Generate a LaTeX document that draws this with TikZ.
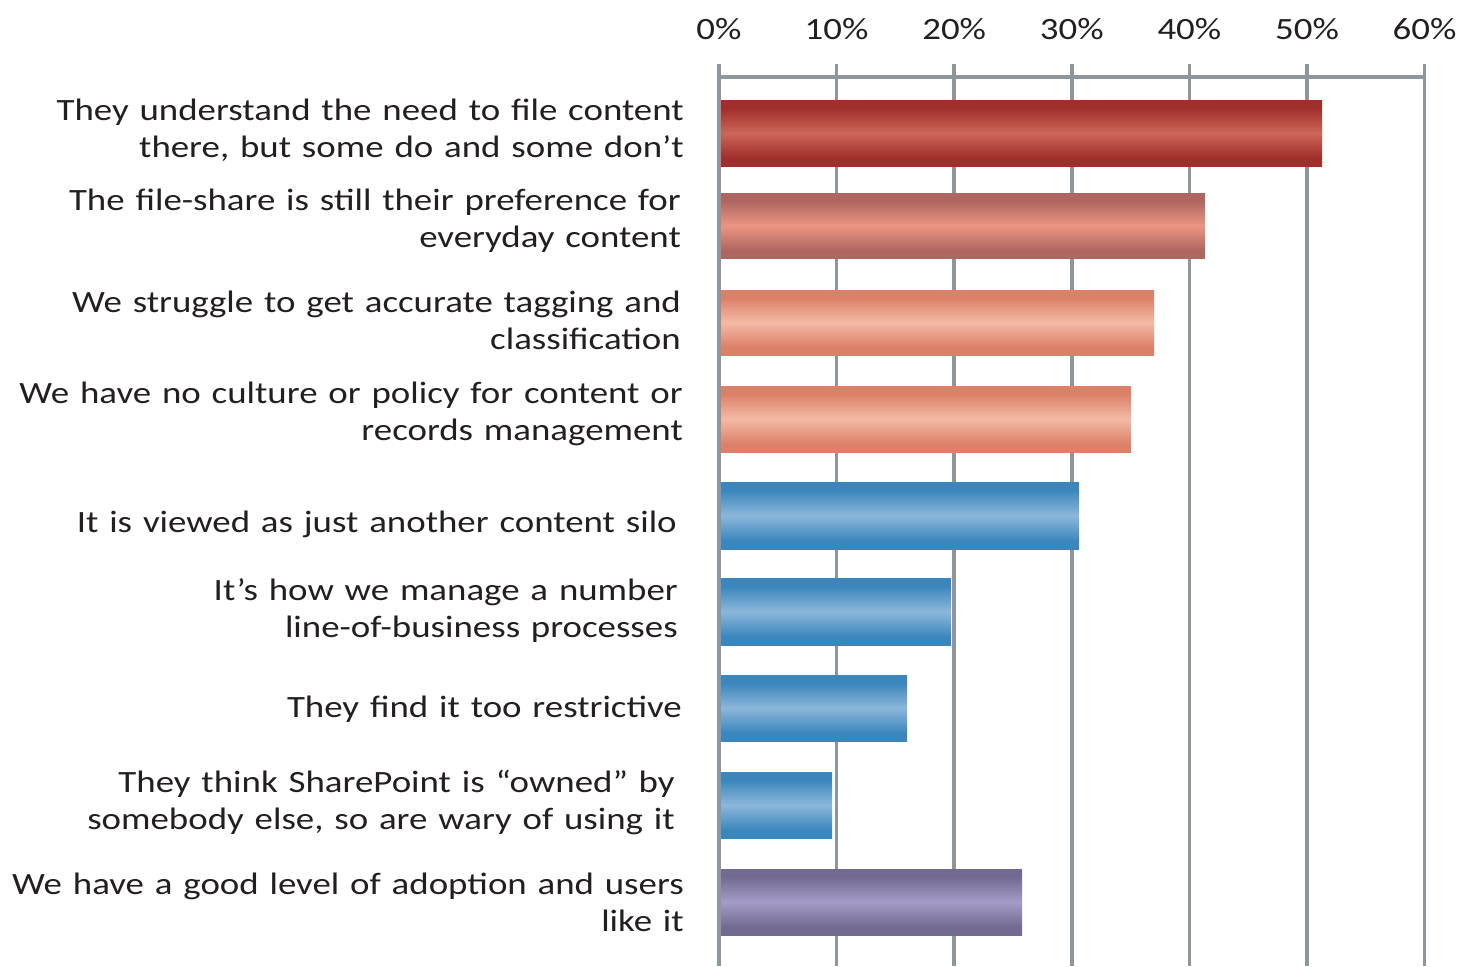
\documentclass[tikz,border=0pt]{standalone}
\usepackage{fontspec}
\setmainfont[FakeStretch=1.19,WordSpace=1.3]{Carlito}
\definecolor{gridc}{HTML}{8E969D}
\definecolor{txt}{HTML}{231F20}
\definecolor{rA}{HTML}{A02E2A}\definecolor{rAl}{HTML}{CC6658}
\definecolor{rB}{HTML}{AE6660}\definecolor{rBl}{HTML}{EC9582}
\definecolor{rC}{HTML}{DD8068}\definecolor{rCl}{HTML}{F3BAA6}
\definecolor{bA}{HTML}{3A86BD}\definecolor{bAl}{HTML}{8CB7DA}
\definecolor{pA}{HTML}{736A92}\definecolor{pAl}{HTML}{A49CC6}
\pgfdeclareverticalshading{shRA}{100bp}{color(0bp)=(rA); color(31bp)=(rA); color(50bp)=(rAl); color(69bp)=(rA); color(100bp)=(rA)}
\pgfdeclareverticalshading{shRB}{100bp}{color(0bp)=(rB); color(31bp)=(rB); color(50bp)=(rBl); color(69bp)=(rB); color(100bp)=(rB)}
\pgfdeclareverticalshading{shRC}{100bp}{color(0bp)=(rC); color(31bp)=(rC); color(50bp)=(rCl); color(69bp)=(rC); color(100bp)=(rC)}
\pgfdeclareverticalshading{shBA}{100bp}{color(0bp)=(bA); color(31bp)=(bA); color(50bp)=(bAl); color(69bp)=(bA); color(100bp)=(bA)}
\pgfdeclareverticalshading{shPA}{100bp}{color(0bp)=(pA); color(31bp)=(pA); color(50bp)=(pAl); color(69bp)=(pA); color(100bp)=(pA)}
\tikzset{
  gridline/.style={draw=gridc, line width=3.5pt},
  lbl/.style={anchor=east, align=right, inner sep=0pt, font=\fontsize{31}{37}\selectfont, text=txt},
  ticklbl/.style={anchor=center, inner sep=0pt, font=\fontsize{31}{36}\selectfont, text=txt},
}
\begin{document}
\begin{tikzpicture}[x=1pt,y=-1pt]
\useasboundingbox (0,0) rectangle (1463,966);
% grid
\foreach \i/\t in {0/0,1/10,2/20,3/30,4/40,5/50,6/60}{
  \coordinate (gt\i) at ({719+117.6*\i},64);
  \coordinate (gb\i) at ({719+117.6*\i},966);
  \draw[gridline] (gt\i) -- (gb\i);
  \node[ticklbl] (tk\i) at ({719+117.6*\i},29) {\t\%};
}
\coordinate (hl) at (719,77);
\coordinate (hr) at (1425,77);
\draw[gridline] (hl) -- (hr);
% bars
\shade[shading=shRA] (721,100) rectangle (1322,166);
\shade[shading=shRB] (721,193) rectangle (1205,258);
\shade[shading=shRC] (721,290) rectangle (1154,355);
\shade[shading=shRC] (721,386) rectangle (1131,452);
\shade[shading=shBA] (721,482) rectangle (1079,549);
\shade[shading=shBA] (721,578) rectangle (951,645);
\shade[shading=shBA] (721,675) rectangle (907,741);
\shade[shading=shBA] (721,772) rectangle (832,838);
\shade[shading=shPA] (721,869) rectangle (1022,935);
% labels
\node[lbl] (l1) at (684,130) {They understand the need to file content\\there, but some do and some don’t};
\node[lbl] (l2) at (681,221) {The file-share is still their preference for\\everyday content};
\node[lbl] (l3) at (681,320) {We struggle to get accurate tagging and\\classification};
\node[lbl] (l4) at (683,414) {We have no culture or policy for content or\\records management};
\node[lbl] (l5) at (677,524) {It is viewed as just another content silo};
\node[lbl] (l6) at (678,611) {It’s how we manage a number\\line-of-business processes};
\node[lbl] (l7) at (682,709) {They find it too restrictive};
\node[lbl] (l8) at (675,802) {They think SharePoint is “owned” by\\somebody else, so are wary of using it};
\node[lbl] (l9) at (684,902) {We have a good level of adoption and users\\like it};
\end{tikzpicture}
\end{document}
